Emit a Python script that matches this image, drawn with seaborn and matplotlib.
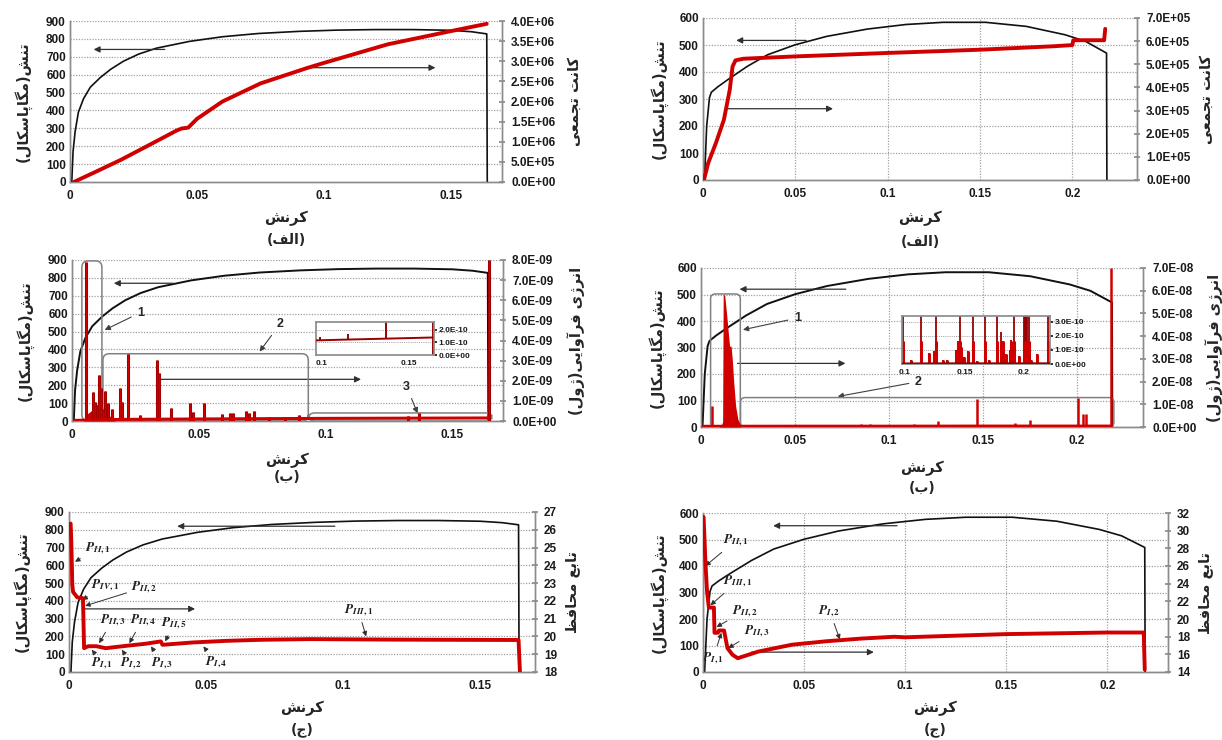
import numpy as np
import matplotlib
matplotlib.use("Agg")
import matplotlib.pyplot as plt
import seaborn as sns
from matplotlib.patches import FancyBboxPatch
from matplotlib.ticker import FuncFormatter

# ---- data ----
# material A (left column) stress-strain
strain_a = [0.0007, 0.0012, 0.002, 0.0033, 0.0053, 0.008, 0.012, 0.016, 0.021, 0.027, 0.034,
            0.047, 0.06, 0.074, 0.09, 0.105, 0.12, 0.135, 0.15, 0.158, 0.164, 0.1642]
stress_a = [0, 170, 280, 390, 465, 530, 585, 630, 675, 715, 748,
            786, 812, 830, 842, 849, 852, 852, 848, 840, 828, 0]
# material B (right column) stress-strain
strain_b = [0.0008, 0.002, 0.0035, 0.0045, 0.008, 0.0135, 0.024, 0.035, 0.05, 0.067, 0.089,
            0.11, 0.13, 0.153, 0.175, 0.196, 0.207, 0.2185, 0.2187]
stress_b = [0, 200, 305, 325, 345, 372, 421, 464, 501, 532, 559,
            576, 584, 584, 569, 538, 514, 470, 0]

# cumulative counts
count_a_x = [0.0015, 0.01, 0.02, 0.03, 0.042, 0.044, 0.0465, 0.05, 0.06, 0.075, 0.0937, 0.1, 0.125, 0.15, 0.164]
count_a_y = [0, 0.25e6, 0.55e6, 0.88e6, 1.28e6, 1.33e6, 1.35e6, 1.57e6, 2.0e6, 2.45e6, 2.84e6, 2.96e6,
             3.42e6, 3.75e6, 3.93e6]
count_b_x = [0.0005, 0.0028, 0.007, 0.0113, 0.0145, 0.016, 0.0176, 0.0219, 0.05, 0.1, 0.15, 0.19,
             0.2, 0.2005, 0.2172, 0.2178]
count_b_y = [0, 0.73e5, 1.6e5, 2.6e5, 3.9e5, 4.9e5, 5.17e5, 5.24e5, 5.34e5, 5.49e5, 5.63e5, 5.78e5,
             5.83e5, 6.04e5, 6.04e5, 6.53e5]

# acoustic emission energy, material A
ae_a_spike_x = [0.0057, 0.0083, 0.0092, 0.0108, 0.0116, 0.0132, 0.0142, 0.0158, 0.0188, 0.0197, 0.022,
                0.0267, 0.0334, 0.0342, 0.0392, 0.0467, 0.0476, 0.052, 0.059, 0.0625, 0.0634, 0.0688,
                0.0697, 0.0717, 0.0778, 0.084, 0.0894, 0.1325, 0.137, 0.1645]
ae_a_spike_y = [7.9e-9, 1.42e-9, 0.95e-9, 2.28e-9, 1.62e-9, 1.48e-9, 0.87e-9, 0.58e-9, 1.65e-9, 0.95e-9,
                3.32e-9, 0.32e-9, 3.04e-9, 2.37e-9, 0.65e-9, 0.89e-9, 0.45e-9, 0.89e-9, 0.35e-9, 0.38e-9,
                0.38e-9, 0.52e-9, 0.42e-9, 0.49e-9, 0.22e-9, 0.22e-9, 0.31e-9, 0.27e-9, 0.4e-9, 8.0e-9]
ae_a_cluster_x = [0.0045, 0.006, 0.008, 0.0095, 0.011, 0.0125, 0.014, 0.0155, 0.017]
ae_a_cluster_y = [0, 0.35e-9, 0.55e-9, 0.8e-9, 0.9e-9, 0.55e-9, 0.35e-9, 0.18e-9, 0.05e-9]
ae_a_base_x = [0.001, 0.02, 0.05, 0.1, 0.1642]
ae_a_base_y = [0.03e-9, 0.08e-9, 0.1e-9, 0.13e-9, 0.15e-9]
# inset A
in_a_base_x = [0.097, 0.11, 0.125, 0.14, 0.155, 0.1632]
in_a_base_y = [1.15e-10, 1.2e-10, 1.25e-10, 1.3e-10, 1.35e-10, 1.38e-10]
in_a_spike_x = [0.0995, 0.115, 0.1365, 0.1635]
in_a_spike_lo = [1.15e-10, 1.22e-10, 1.28e-10, 0]
in_a_spike_hi = [1.4e-10, 1.65e-10, 2.7e-10, 2.7e-10]

# acoustic emission energy, material B
ae_b_spike_x = [0.006, 0.0355, 0.085, 0.09, 0.113, 0.126, 0.1465, 0.167, 0.175, 0.193, 0.2005, 0.203,
                0.2045, 0.218]
ae_b_spike_y = [0.91e-8, 0.09e-8, 0.14e-8, 0.12e-8, 0.12e-8, 0.26e-8, 1.22e-8, 0.18e-8, 0.33e-8, 0.09e-8,
                1.28e-8, 0.58e-8, 0.58e-8, 7.0e-8]
ae_b_cluster_x = [0.0098, 0.0108, 0.0115, 0.0118, 0.0126, 0.0135, 0.0144, 0.0152, 0.016, 0.0167, 0.0174,
                  0.0184, 0.0196, 0.0209]
ae_b_cluster_y = [0, 0.7e-9, 2.3e-9, 5.85e-8, 5.8e-8, 5.07e-8, 4.26e-8, 3.56e-8, 3.56e-8, 2.9e-8, 1.98e-8,
                  0.93e-8, 0.35e-8, 0.09e-8]
ae_b_base_x = [0.001, 0.05, 0.1, 0.15, 0.2179]
ae_b_base_y = [0.3e-9, 0.35e-9, 0.35e-9, 0.4e-9, 0.4e-9]
# inset B (units of 1e-10)
in_b_spike_x = [0.0985, 0.105, 0.1135, 0.12, 0.1245, 0.1257, 0.132, 0.135, 0.143, 0.1445, 0.146, 0.1475,
                0.15, 0.153, 0.157, 0.161, 0.1676, 0.171, 0.177, 0.181, 0.1825, 0.185, 0.188, 0.1895,
                0.192, 0.196, 0.2, 0.201, 0.202, 0.203, 0.204, 0.206, 0.211, 0.22]
in_b_spike_y = [4, 0.3, 4, 0.8, 0.9, 4, 0.3, 0.3, 1.0, 1.6, 4, 1.2,
                0.5, 0.9, 4, 0.2, 4, 0.3, 4, 2.3, 1.6, 0.7, 1.0, 1.7,
                4, 0.6, 4, 4, 4, 4, 4, 0.3, 0.7, 4]
in_b_base_x = [0.0975, 0.15, 0.222]
in_b_base_y = [0.05, 0.06, 0.06]

# protective function
prot_a_x = [0.0006, 0.0008, 0.001, 0.0012, 0.0015, 0.003, 0.0051, 0.0055, 0.007, 0.01, 0.0134, 0.0207,
            0.028, 0.0335, 0.0341, 0.045, 0.057, 0.0695, 0.088, 0.12, 0.164, 0.1645]
prot_a_y = [26.35, 25.5, 24.3, 22.9, 22.5, 22.2, 22.15, 19.34, 19.45, 19.45, 19.34, 19.47,
            19.59, 19.72, 19.53, 19.66, 19.75, 19.81, 19.85, 19.82, 19.8, 18.0]
prot_b_x = [0.0003, 0.0012, 0.002, 0.0029, 0.0054, 0.0057, 0.0074, 0.0079, 0.0104, 0.0121, 0.0146,
            0.0172, 0.0273, 0.044, 0.061, 0.078, 0.0946, 0.1, 0.15, 0.2, 0.218, 0.2185]
prot_b_y = [31.55, 26.39, 23.09, 21.29, 21.29, 18.44, 18.44, 18.7, 18.7, 16.7, 15.95,
            15.56, 16.31, 17.09, 17.48, 17.78, 17.99, 17.93, 18.29, 18.47, 18.47, 14.27]

# Persian labels
ylab_stress = "تنش(مگاپاسکال)"
ylab_count = "کانت تجمعی"
ylab_energy = "انرژی فرآوایی(ژول)"
ylab_prot = "تابع محافظ"
xlab = "کرنش"
subs = ["(الف)", "(ب)", "(ج)"]

# ---- minimal Persian shaping (matplotlib has no bidi/shaping) ----
FORMS = {
    "ا": ("\uFE8D", "\uFE8E", None, None), "آ": ("\uFE81", "\uFE82", None, None),
    "ب": ("\uFE8F", "\uFE90", "\uFE91", "\uFE92"), "پ": ("\uFB56", "\uFB57", "\uFB58", "\uFB59"),
    "ت": ("\uFE95", "\uFE96", "\uFE97", "\uFE98"), "ج": ("\uFE9D", "\uFE9E", "\uFE9F", "\uFEA0"),
    "ح": ("\uFEA1", "\uFEA2", "\uFEA3", "\uFEA4"), "ر": ("\uFEAD", "\uFEAE", None, None),
    "ژ": ("\uFB8A", "\uFB8B", None, None), "س": ("\uFEB1", "\uFEB2", "\uFEB3", "\uFEB4"),
    "ش": ("\uFEB5", "\uFEB6", "\uFEB7", "\uFEB8"), "ظ": ("\uFEC5", "\uFEC6", "\uFEC7", "\uFEC8"),
    "ع": ("\uFEC9", "\uFECA", "\uFECB", "\uFECC"), "ف": ("\uFED1", "\uFED2", "\uFED3", "\uFED4"),
    "ک": ("\uFB8E", "\uFB8F", "\uFB90", "\uFB91"), "گ": ("\uFB92", "\uFB93", "\uFB94", "\uFB95"),
    "ل": ("\uFEDD", "\uFEDE", "\uFEDF", "\uFEE0"), "م": ("\uFEE1", "\uFEE2", "\uFEE3", "\uFEE4"),
    "ن": ("\uFEE5", "\uFEE6", "\uFEE7", "\uFEE8"), "و": ("\uFEED", "\uFEEE", None, None),
    "ی": ("\uFBFC", "\uFBFD", "\uFBFE", "\uFBFF"),
}


def fa(s):
    out = []
    for i, ch in enumerate(s):
        f = FORMS.get(ch)
        if f is None:
            out.append(ch)
            continue
        prev = s[i - 1] if i > 0 else ""
        nxt = s[i + 1] if i + 1 < len(s) else ""
        jp = prev in FORMS and FORMS[prev][2] is not None
        jn = f[2] is not None and nxt in FORMS
        out.append(f[3] if jp and jn else f[1] if jp else f[2] if jn else f[0])
    mirror = {"(": ")", ")": "("}
    return "".join(mirror.get(c, c) for c in reversed(out))


sns.set_theme(style="white")
plt.rcParams["font.family"] = ["Liberation Sans", "DejaVu Sans"]
plt.rcParams["font.weight"] = "bold"
plt.rcParams["mathtext.fontset"] = "stix"

W, H = 1222, 740
RED = "#d00000"
DARKRED = "#9a0000"
GRID = "#a0a0a0"
FA_FONT = dict(family=["DejaVu Sans"], fontweight="bold")
TICK = 8.5


def rect(l, r, t, b):
    return [l / W, 1 - b / H, (r - l) / W, (b - t) / H]


def curve(ax, x, y, color, lw, z=3):
    sns.lineplot(x=x, y=y, ax=ax, color=color, linewidth=lw, estimator=None, sort=False,
                 legend=False, zorder=z)


def sci(v, p):
    return f"{v:.1E}"


def style(ax, ax2, ymax, xmax, xticks, vgrid, r_lim, r_step, r_fmt, lpad):
    ax.set_xlim(0, xmax)
    ax.set_ylim(0, ymax)
    ax.set_yticks(np.arange(0, ymax + 1, 100))
    ax.set_xticks(xticks)
    ax.set_xticklabels([f"{t:g}" for t in xticks])
    ax.grid(axis="y", color=GRID, ls=(0, (1, 1.2)), lw=0.9)
    if vgrid:
        ax.grid(axis="x", color=GRID, ls=(0, (1, 1.2)), lw=0.9)
    ax2.set_ylim(*r_lim)
    ax2.set_yticks(np.arange(r_lim[0], r_lim[1] + r_step / 2, r_step))
    if r_fmt:
        ax2.yaxis.set_major_formatter(FuncFormatter(sci))
    for a in (ax, ax2):
        a.spines["top"].set_visible(False)
        for s in ("left", "bottom", "right"):
            a.spines[s].set_color("#8c8c8c")
            a.spines[s].set_linewidth(1.0)
        a.tick_params(labelsize=TICK, colors="#1a1a1a", length=0, pad=3)
    ax.tick_params(axis="x", pad=6)
    ax2.tick_params(axis="y", length=5, direction="inout", color="#8c8c8c", pad=4)
    ax.set_xlabel("")
    ax.set_ylabel("")
    ax.set_ylabel(fa(ylab_stress), fontsize=10.5, labelpad=lpad, **FA_FONT)


def arrow(ax, tail, head):
    ax.annotate("", xy=head, xytext=tail,
                arrowprops=dict(arrowstyle="-|>", color="#303030", lw=0.9, mutation_scale=9,
                                shrinkA=0, shrinkB=0))


def plabel(ax, txt, pos, head):
    ax.annotate(txt, xy=head, xytext=pos, fontsize=9.5, ha="center", va="center", color="#202020",
                arrowprops=dict(arrowstyle="-|>", color="#303030", lw=0.7, mutation_scale=7,
                                shrinkA=1, shrinkB=0))


def numlabel(ax, txt, pos, head):
    ax.annotate(txt, xy=head, xytext=pos, fontsize=9, ha="center", va="center",
                arrowprops=dict(arrowstyle="-|>", color="#404040", lw=0.8, mutation_scale=8, shrinkB=0))


def rbox(ax, x0, x1, y0, y1, ppx, ppy):
    ax.add_patch(FancyBboxPatch((x0, y0), x1 - x0, y1 - y0,
                                boxstyle="round,pad=0,rounding_size=0.0025",
                                mutation_aspect=ppx / ppy, fc="none", ec="#808080", lw=1.1, zorder=6))


def inset_style(axi, xlim, ylim, xticks, yticks):
    axi.set_xlim(*xlim)
    axi.set_ylim(*ylim)
    axi.set_xticks(xticks)
    axi.set_xticklabels([f"{t:g}" for t in xticks])
    axi.set_yticks(yticks)
    axi.yaxis.set_major_formatter(FuncFormatter(sci))
    axi.yaxis.tick_right()
    axi.grid(axis="y", color=GRID, ls=(0, (1, 1.2)), lw=0.7)
    axi.tick_params(labelsize=6, length=2, pad=1.5, colors="#1a1a1a")
    for s in axi.spines.values():
        s.set_color("#8c8c8c")


def captions(cx, ylab_y, sub_y, sub):
    fig.text(cx / W, 1 - ylab_y / H, fa(xlab), ha="center", va="center", fontsize=10.5, **FA_FONT)
    fig.text(cx / W, 1 - sub_y / H, fa(sub), ha="center", va="center", fontsize=10, **FA_FONT)


fig = plt.figure(figsize=(W / 100, H / 100), dpi=100)

# ---------- row 1 ----------
ax = fig.add_axes(rect(70, 502, 21, 182))
ax2 = ax.twinx()
curve(ax, strain_a, stress_a, "#111111", 1.2)
curve(ax2, count_a_x, count_a_y, RED, 2.8, 4)
style(ax, ax2, 900, 0.17, [0, 0.05, 0.1, 0.15], False, (0, 4e6), 5e5, True, 10)
ax2.set_ylabel(fa(ylab_count), fontsize=10.5, rotation=90, labelpad=8, **FA_FONT)
arrow(ax, (0.0373, 741), (0.0093, 741))
arrow(ax, (0.0937, 639), (0.1438, 639))
captions(286, 218, 240, subs[0])

ax = fig.add_axes(rect(703, 1137, 18, 180))
ax2 = ax.twinx()
curve(ax, strain_b, stress_b, "#111111", 1.2)
curve(ax2, count_b_x, count_b_y, RED, 2.8, 4)
style(ax, ax2, 600, 0.235, [0, 0.05, 0.1, 0.15, 0.2], True, (0, 7e5), 1e5, True, 8)
ax2.set_ylabel(fa(ylab_count), fontsize=10.5, rotation=90, labelpad=6, **FA_FONT)
arrow(ax, (0.0559, 517), (0.018, 517))
arrow(ax, (0.013, 264), (0.0704, 264))
captions(920, 218, 242, subs[0])

# ---------- row 2 ----------
ax = fig.add_axes(rect(72, 503, 260, 421))
ax2 = ax.twinx()
curve(ax, strain_a, stress_a, "#111111", 1.4)
ax2.fill_between(ae_a_cluster_x, 0, ae_a_cluster_y, color=RED, lw=0, zorder=3)
ax2.vlines(ae_a_spike_x, 0, ae_a_spike_y, colors=DARKRED, lw=2.2, zorder=4)
ax2.vlines(ae_a_spike_x, 0, ae_a_spike_y, colors=RED, lw=1.0, zorder=4)
curve(ax2, ae_a_base_x, ae_a_base_y, RED, 2.2, 4)
style(ax, ax2, 900, 0.17, [0, 0.05, 0.1, 0.15], False, (0, 8e-9), 1e-9, True, 10)
ax2.set_ylabel(fa(ylab_energy), fontsize=10.5, rotation=90, labelpad=8, **FA_FONT)
ppx, ppy = 431 / 0.17, 161 / 900
rbox(ax, 0.0039, 0.0118, 0, 895, ppx, ppy)
rbox(ax, 0.0122, 0.0932, 0, 376, ppx, ppy)
rbox(ax, 0.0932, 0.1655, 0, 45, ppx, ppy)
arrow(ax, (0.040, 770), (0.0165, 770))
arrow(ax, (0.0348, 233), (0.114, 233))
numlabel(ax, "1", (0.027, 606), (0.0129, 509))
numlabel(ax, "2", (0.082, 542), (0.074, 388))
numlabel(ax, "3", (0.132, 192), (0.1363, 43))
captions(287, 460, 477, subs[1])

axi = fig.add_axes(rect(316, 434, 322, 355))
curve(axi, in_a_base_x, in_a_base_y, DARKRED, 1.4)
axi.vlines(in_a_spike_x, in_a_spike_lo, in_a_spike_hi, colors=DARKRED, lw=1.4)
inset_style(axi, (0.097, 0.164), (0, 2.6e-10), [0.1, 0.15], [0, 1e-10, 2e-10])

ax = fig.add_axes(rect(701, 1143, 268, 427))
ax2 = ax.twinx()
curve(ax, strain_b, stress_b, "#111111", 1.4)
ax2.fill_between(ae_b_cluster_x, 0, ae_b_cluster_y, color=RED, lw=0, zorder=3)
ax2.vlines(ae_b_spike_x, 0, ae_b_spike_y, colors=RED, lw=1.8, zorder=4)
curve(ax2, ae_b_base_x, ae_b_base_y, RED, 2.2, 4)
style(ax, ax2, 600, 0.235, [0, 0.05, 0.1, 0.15, 0.2], True, (0, 7e-8), 1e-8, True, 8)
ax2.set_ylabel(fa(ylab_energy), fontsize=10.5, rotation=90, labelpad=6, **FA_FONT)
ppx, ppy = 442 / 0.235, 159 / 600
rbox(ax, 0.0051, 0.0209, 0, 502, ppx, ppy)
rbox(ax, 0.021, 0.2195, 0, 111, ppx, ppy)
arrow(ax, (0.077, 520), (0.0205, 520))
arrow(ax, (0.0194, 240), (0.0768, 240))
numlabel(ax, "1", (0.0512, 411), (0.0223, 367))
numlabel(ax, "2", (0.1155, 171), (0.0727, 115))
captions(922, 468, 488, subs[1])

axi = fig.add_axes(rect(902, 1050, 316, 364))
in_b_hi = [v * 1e-10 for v in in_b_spike_y]
axi.vlines(in_b_spike_x, 0, in_b_hi, colors=DARKRED, lw=1.3)
axi.vlines(in_b_spike_x, 0, [min(v, 1.6e-10) for v in in_b_hi], colors=RED, lw=2.2)
curve(axi, in_b_base_x, [v * 1e-10 for v in in_b_base_y], DARKRED, 1.2)
inset_style(axi, (0.0975, 0.222), (0, 3.4e-10), [0.1, 0.15, 0.2], [0, 1e-10, 2e-10, 3e-10])

# ---------- row 3 ----------
ax = fig.add_axes(rect(69, 535, 512, 672))
ax2 = ax.twinx()
curve(ax, strain_a, stress_a, "#111111", 1.2)
curve(ax2, prot_a_x, prot_a_y, RED, 2.8, 4)
style(ax, ax2, 900, 0.17, [0, 0.05, 0.1, 0.15], False, (18, 27), 1, False, 10)
ax2.set_ylabel(fa(ylab_prot), fontsize=10.5, rotation=90, labelpad=6, **FA_FONT)
arrow(ax, (0.097, 820), (0.0395, 820))
arrow(ax, (0.0057, 355), (0.046, 355))
plabel(ax, r"$P_{II,1}$", (0.0104, 695), (0.0022, 620))
plabel(ax, r"$P_{IV,1}$", (0.0133, 490), (0.0049, 405))
plabel(ax, r"$P_{II,2}$", (0.0274, 476), (0.0059, 372))
plabel(ax, r"$P_{II,3}$", (0.0159, 293), (0.011, 162))
plabel(ax, r"$P_{II,4}$", (0.0268, 293), (0.022, 162))
plabel(ax, r"$P_{II,5}$", (0.0384, 274), (0.0351, 172))
plabel(ax, r"$P_{I,1}$", (0.0122, 50), (0.0083, 125))
plabel(ax, r"$P_{I,2}$", (0.0226, 50), (0.0193, 125))
plabel(ax, r"$P_{I,3}$", (0.0341, 50), (0.0299, 144))
plabel(ax, r"$P_{I,4}$", (0.0537, 54), (0.049, 144))
plabel(ax, r"$P_{III,1}$", (0.1055, 349), (0.1084, 200))
captions(302, 708, 730, subs[2])

ax = fig.add_axes(rect(703, 1168, 513, 672))
ax2 = ax.twinx()
curve(ax, strain_b, stress_b, "#111111", 1.2)
curve(ax2, prot_b_x, prot_b_y, RED, 2.8, 4)
style(ax, ax2, 600, 0.23, [0, 0.05, 0.1, 0.15, 0.2], True, (14, 32), 2, False, 8)
ax2.set_ylabel(fa(ylab_prot), fontsize=10.5, rotation=90, labelpad=6, **FA_FONT)
arrow(ax, (0.096, 552), (0.0347, 552))
arrow(ax, (0.024, 75), (0.0845, 75))
plabel(ax, r"$P_{II,1}$", (0.0163, 497), (0.0012, 400))
plabel(ax, r"$P_{III,1}$", (0.0172, 342), (0.0037, 252))
plabel(ax, r"$P_{II,2}$", (0.0205, 230), (0.0067, 170))
plabel(ax, r"$P_{II,3}$", (0.0264, 155), (0.0125, 90))
plabel(ax, r"$P_{I,1}$", (0.005, 52), (0.0091, 148))
plabel(ax, r"$P_{I,2}$", (0.0626, 230), (0.0677, 123))
captions(935, 708, 730, subs[2])

fig.savefig("out.png", dpi=100)
